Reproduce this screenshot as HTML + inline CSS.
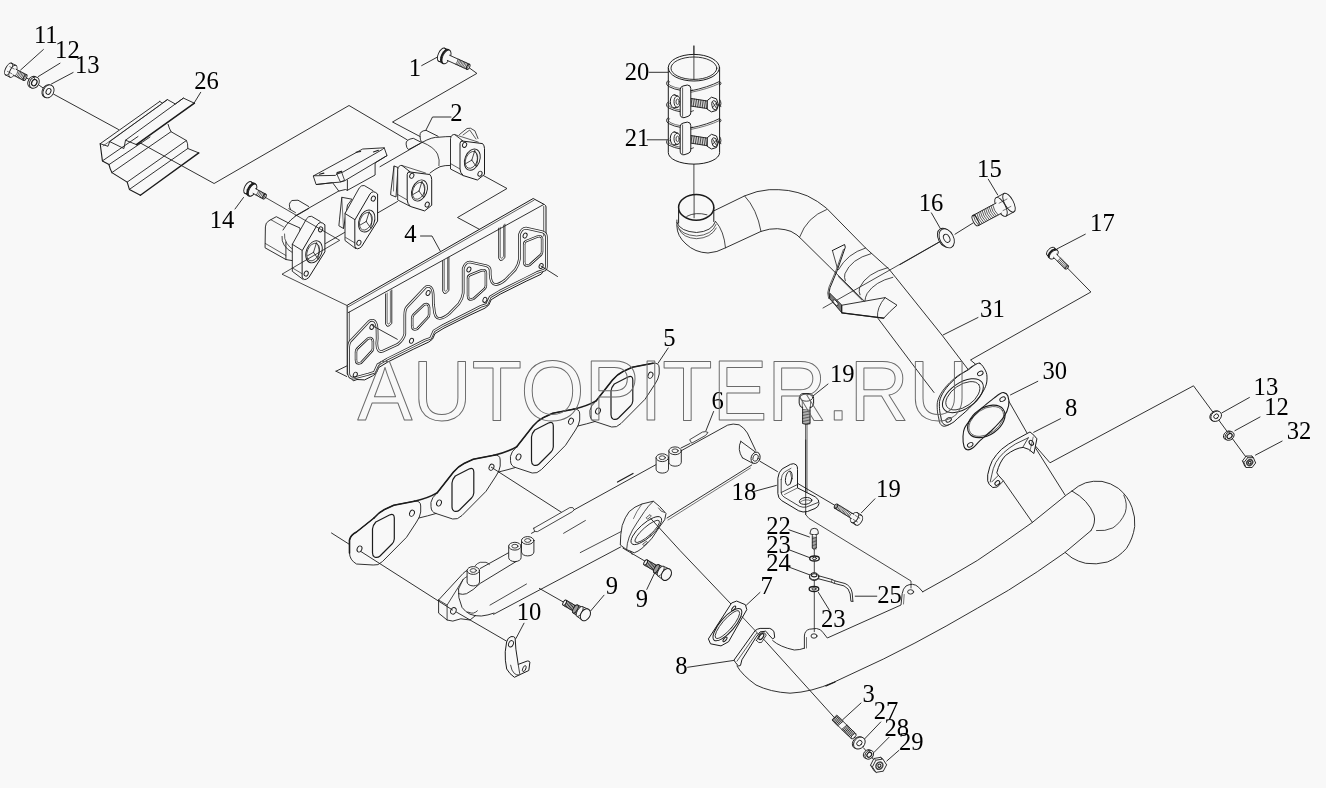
<!DOCTYPE html>
<html><head><meta charset="utf-8"><title>Exhaust manifold diagram</title>
<style>
html,body{margin:0;padding:0;background:#f8f8f8;}
body{width:1326px;height:788px;overflow:hidden;font-family:"Liberation Serif",serif;}
svg{display:block;will-change:transform}
svg text{font-family:"Liberation Serif",serif;fill:#000;stroke:none}
svg .wm{font-family:"Liberation Sans",sans-serif;fill:none;stroke:#6a6a6a;stroke-width:0.95}
</style></head><body>
<svg width="1326" height="788" viewBox="0 0 1326 788" fill="none" stroke="#1c1c1c" stroke-linecap="round" stroke-linejoin="round">
<rect x="0" y="0" width="1326" height="788" fill="#f8f8f8" stroke="none"/>
<text x="33.9" y="42.8" font-size="24.6">11</text>
<text x="55.1" y="57.7" font-size="24.6">12</text>
<text x="75.0" y="73.1" font-size="24.6">13</text>
<text x="194.2" y="89.0" font-size="24.6">26</text>
<text x="408.8" y="76.1" font-size="24.6">1</text>
<text x="450.2" y="121.0" font-size="24.6">2</text>
<text x="209.8" y="227.6" font-size="24.6">14</text>
<text x="404.2" y="241.8" font-size="24.6">4</text>
<text x="624.8" y="80.1" font-size="24.6">20</text>
<text x="624.8" y="146.4" font-size="24.6">21</text>
<text x="977.1" y="177.4" font-size="24.6">15</text>
<text x="918.7" y="210.6" font-size="24.6">16</text>
<text x="1090.1" y="231.3" font-size="24.6">17</text>
<text x="980.1" y="317.3" font-size="24.6">31</text>
<text x="1042.5" y="379.1" font-size="24.6">30</text>
<text x="1064.9" y="416.0" font-size="24.6">8</text>
<text x="1253.6" y="394.9" font-size="24.6">13</text>
<text x="1264.3" y="414.7" font-size="24.6">12</text>
<text x="1286.7" y="438.7" font-size="24.6">32</text>
<text x="663.2" y="346.0" font-size="24.6">5</text>
<text x="711.6" y="409.2" font-size="24.6">6</text>
<text x="829.9" y="381.5" font-size="24.6">19</text>
<text x="731.6" y="499.9" font-size="24.6">18</text>
<text x="876.1" y="496.8" font-size="24.6">19</text>
<text x="766.2" y="533.6" font-size="24.6">22</text>
<text x="766.2" y="552.7" font-size="24.6">23</text>
<text x="766.2" y="570.5" font-size="24.6">24</text>
<text x="877.2" y="602.5" font-size="24.6">25</text>
<text x="820.9" y="627.2" font-size="24.6">23</text>
<text x="760.5" y="593.6" font-size="24.6">7</text>
<text x="675.2" y="673.6" font-size="24.6">8</text>
<text x="605.8" y="593.5" font-size="24.6">9</text>
<text x="635.8" y="606.8" font-size="24.6">9</text>
<text x="516.8" y="620.2" font-size="24.6">10</text>
<text x="862.4" y="702.3" font-size="24.6">3</text>
<text x="873.8" y="719.0" font-size="24.6">27</text>
<text x="884.5" y="735.8" font-size="24.6">28</text>
<text x="899.0" y="750.3" font-size="24.6">29</text>
<path d="M43.4,49.5 L20.6,70.0" stroke-width="0.9" />
<path d="M60.0,63.2 L38.3,76.5" stroke-width="0.9" />
<path d="M73.1,72.5 L51.4,84.0" stroke-width="0.9" />
<path d="M200.7,92.3 L194.0,103.2" stroke-width="0.9" />
<path d="M421.7,65.6 L438.8,56.3" stroke-width="0.9" />
<path d="M243.5,197.5 L235.0,209.0" stroke-width="0.9" />
<path d="M649.0,72.3 L668.3,72.3" stroke-width="0.9" />
<path d="M647.3,139.8 L666.9,139.8" stroke-width="0.9" />
<path d="M988.3,179.2 L997.7,194.9" stroke-width="0.9" />
<path d="M931.4,212.9 L940.4,228.6" stroke-width="0.9" />
<path d="M1085.3,234.2 L1057.2,248.8" stroke-width="0.9" />
<path d="M978.0,317.5 L943.0,335.0" stroke-width="0.9" />
<path d="M1037.8,381.3 L1010.5,394.9" stroke-width="0.9" />
<path d="M1060.5,418.7 L1033.7,432.3" stroke-width="0.9" />
<path d="M1249.4,397.5 L1222.0,412.8" stroke-width="0.9" />
<path d="M1260.0,417.0 L1234.9,430.7" stroke-width="0.9" />
<path d="M1282.1,441.1 L1255.5,455.1" stroke-width="0.9" />
<path d="M668.2,348.0 L658.0,363.3" stroke-width="0.9" />
<path d="M713.6,411.5 L705.9,430.8" stroke-width="0.9" />
<path d="M753.0,491.7 L776.4,485.4" stroke-width="0.9" />
<path d="M874.9,498.8 L861.4,512.8" stroke-width="0.9" />
<path d="M789.0,529.8 L809.4,537.0" stroke-width="0.9" />
<path d="M788.6,549.6 L810.1,557.8" stroke-width="0.9" />
<path d="M789.0,567.1 L810.1,575.0" stroke-width="0.9" />
<path d="M855.2,596.2 L876.8,596.2" stroke-width="0.9" />
<path d="M818.4,592.4 L829.3,610.0" stroke-width="0.9" />
<path d="M760.0,592.4 L746.5,605.0" stroke-width="0.9" />
<path d="M687.6,667.3 L734.0,660.4" stroke-width="0.9" />
<path d="M604.0,595.2 L590.6,611.0" stroke-width="0.9" />
<path d="M646.8,589.4 L654.9,572.4" stroke-width="0.9" />
<path d="M524.0,623.2 L516.0,638.4" stroke-width="0.9" />
<path d="M861.0,703.0 L842.6,719.8" stroke-width="0.9" />
<path d="M880.7,722.0 L864.7,738.8" stroke-width="0.9" />
<path d="M889.0,737.3 L873.9,752.5" stroke-width="0.9" />
<path d="M899.0,750.3 L886.8,761.0" stroke-width="0.9" />
<path d="M451.0,117.0 L432.5,117.0 L426.0,130.0" stroke-width="0.9" />
<path d="M420.5,236.0 L432.0,236.0 L440.5,251.5" stroke-width="0.9" />
<path d="M828.0,384.0 L813.0,396.0" stroke-width="0.9" />
<path d="M25.1,77.1 L29.7,79.7" stroke-width="0.9" />
<path d="M39.4,85.4 L44.0,88.6" stroke-width="0.9" />
<path d="M53.7,94.2 L118.5,129.5" stroke-width="0.9" />
<ellipse cx="8.6" cy="69.1" rx="3.0" ry="6.6" stroke-width="0.9" transform="rotate(27.360774729817237 8.6 69.1)" fill="#f8f8f8"/>
<path d="M5.5,74.9 L10.0,77.2" stroke-width="0.9" />
<path d="M11.6,63.2 L16.1,65.5" stroke-width="0.9" />
<ellipse cx="13.0" cy="71.3" rx="3.0" ry="6.6" stroke-width="0.9" transform="rotate(27.360774729817237 13.0 71.3)" fill="#f8f8f8"/>
<path d="M7.4,71.4 L11.8,73.7" stroke-width="0.6" />
<path d="M9.8,66.7 L14.2,69.0" stroke-width="0.6" />
<path d="M13.1,75.0 L23.6,80.4 L26.6,74.8 L16.1,69.3" fill="#f8f8f8" stroke-width="0.9"/>
<ellipse cx="25.1" cy="77.6" rx="1.4" ry="3.2" stroke-width="0.9" transform="rotate(27.360774729817237 25.1 77.6)" fill="#f8f8f8"/>
<path d="M15.2,76.1 Q17.5,73.6 18.2,70.4" stroke-width="0.7"/>
<path d="M16.6,76.8 Q18.8,74.3 19.5,71.1" stroke-width="0.7"/>
<path d="M17.9,77.5 Q20.1,75.0 20.8,71.8" stroke-width="0.7"/>
<path d="M19.2,78.2 Q21.5,75.7 22.2,72.5" stroke-width="0.7"/>
<path d="M20.6,78.9 Q22.8,76.4 23.5,73.2" stroke-width="0.7"/>
<path d="M21.9,79.5 Q24.1,77.1 24.8,73.9" stroke-width="0.7"/>
<path d="M23.2,80.2 Q25.4,77.8 26.2,74.6" stroke-width="0.7"/>
<ellipse cx="32.7" cy="82.0" rx="4.6" ry="6.0" stroke-width="0.9" transform="rotate(30 32.7 82.0)" fill="#f8f8f8"/>
<ellipse cx="34.3" cy="82.6" rx="4.6" ry="6.0" stroke-width="0.9" transform="rotate(30 34.3 82.6)" fill="#f8f8f8"/>
<ellipse cx="34.3" cy="82.6" rx="2.5" ry="3.3" stroke-width="1.2" transform="rotate(30 34.3 82.6)" />
<path d="M33.4,76.6 L35.2,79.6" stroke-width="0.7" />
<ellipse cx="47.5" cy="91.1" rx="5.2" ry="6.8" stroke-width="0.9" transform="rotate(28 47.5 91.1)" fill="#f8f8f8"/>
<ellipse cx="48.5" cy="91.4" rx="5.2" ry="6.8" stroke-width="0.9" transform="rotate(28 48.5 91.4)" fill="#f8f8f8"/>
<ellipse cx="48.5" cy="91.4" rx="2.3" ry="3.1" stroke-width="0.9" transform="rotate(28 48.5 91.4)" />
<path d="M100.2,143.7 L159.8,101.4" stroke-width="0.9" />
<path d="M103.0,146.0 L161.0,104.5" stroke-width="0.6" />
<path d="M109.7,141.6 L167.4,99.6" stroke-width="0.9" />
<path d="M125.5,140.2 L183.4,98.1" stroke-width="0.9" />
<path d="M136.4,144.6 L194.4,103.2" stroke-width="1.6" />
<path d="M159.8,101.4 L162.3,103.2 L167.4,99.6 L175.4,104.0 L183.4,98.1 L194.4,103.2" stroke-width="0.9" />
<path d="M100.2,143.7 L108.0,146.3 L109.7,141.6 L123.9,148.5 L125.5,140.2 L136.4,144.6 L141.0,143.2" stroke-width="0.9" />
<path d="M100.2,143.7 L102.4,160.9 L109,164.6 Q110,169 111.9,172.6 L127.2,182.1 L129.4,189.4 L140.4,195.2" stroke-width="1.1" />
<path d="M140.4,195.2 L198.8,152.9" stroke-width="1.4" />
<path d="M198.8,152.9 L187.8,148.5 Q188,143 186.4,140.5 L171,131.7 Q169,128 168.1,124.4" stroke-width="0.9" />
<path d="M102.4,160.9 L138.0,136.5" stroke-width="0.9" />
<path d="M109.0,164.6 L150.0,137.0" stroke-width="0.9" />
<path d="M111.9,172.6 L171.0,131.7" stroke-width="0.9" />
<path d="M127.2,182.1 L186.4,140.5" stroke-width="0.9" />
<path d="M129.4,189.4 L187.8,148.5" stroke-width="0.9" />
<path d="M141.1,143.4 L214.1,183.5 L349.0,105.5 L407.3,139.9" stroke-width="0.9" />
<path d="M468.5,67.3 L476.9,73.4 L392.5,122.0 L420.0,136.5" stroke-width="0.9" />
<ellipse cx="441.8" cy="54.8" rx="3.6" ry="7.2" stroke-width="0.9" transform="rotate(24.39150214369992 441.8 54.8)" fill="#f8f8f8"/>
<path d="M438.8,61.3 L442.4,63.0" stroke-width="0.9" />
<path d="M444.8,48.2 L448.4,49.9" stroke-width="0.9" />
<ellipse cx="445.4" cy="56.4" rx="3.6" ry="7.2" stroke-width="2.0" transform="rotate(24.39150214369992 445.4 56.4)" fill="#f8f8f8"/>
<path d="M440.6,57.4 L444.2,59.0" stroke-width="0.6" />
<path d="M443.0,52.2 L446.6,53.8" stroke-width="0.6" />
<ellipse cx="446.5" cy="56.9" rx="3.7" ry="7.4" stroke-width="0.9" transform="rotate(24.39150214369992 446.5 56.9)" fill="#f8f8f8"/>
<path d="M447.3,60.4 L467.1,69.4 L469.5,64.2 L449.6,55.3" fill="#f8f8f8" stroke-width="0.9"/>
<ellipse cx="468.3" cy="66.8" rx="1.4" ry="2.8" stroke-width="0.9" transform="rotate(24.39150214369992 468.3 66.8)" fill="#f8f8f8"/>
<path d="M455.8,64.2 Q457.7,62.0 458.1,59.1" stroke-width="0.7"/>
<path d="M457.2,64.8 Q459.1,62.6 459.5,59.7" stroke-width="0.7"/>
<path d="M458.5,65.4 Q460.4,63.2 460.8,60.3" stroke-width="0.7"/>
<path d="M459.9,66.1 Q461.8,63.8 462.2,61.0" stroke-width="0.7"/>
<path d="M461.3,66.7 Q463.1,64.5 463.6,61.6" stroke-width="0.7"/>
<path d="M462.6,67.3 Q464.5,65.1 464.9,62.2" stroke-width="0.7"/>
<path d="M464.0,67.9 Q465.9,65.7 466.3,62.8" stroke-width="0.7"/>
<path d="M465.4,68.5 Q467.2,66.3 467.7,63.4" stroke-width="0.7"/>
<path d="M466.7,69.2 Q468.6,66.9 469.0,64.1" stroke-width="0.7"/>
<ellipse cx="248.0" cy="187.6" rx="3.3" ry="6.6" stroke-width="0.9" transform="rotate(28.55581420851125 248.0 187.6)" fill="#f8f8f8"/>
<path d="M244.9,193.4 L248.4,195.4" stroke-width="0.9" />
<path d="M251.2,181.8 L254.7,183.8" stroke-width="0.9" />
<ellipse cx="251.6" cy="189.6" rx="3.3" ry="6.6" stroke-width="2.0" transform="rotate(28.55581420851125 251.6 189.6)" fill="#f8f8f8"/>
<path d="M246.8,190.0 L250.3,191.9" stroke-width="0.6" />
<path d="M249.3,185.3 L252.8,187.2" stroke-width="0.6" />
<ellipse cx="252.6" cy="190.1" rx="3.3" ry="6.6" stroke-width="0.9" transform="rotate(28.55581420851125 252.6 190.1)" fill="#f8f8f8"/>
<path d="M253.1,193.4 L263.2,199.0 L265.8,194.2 L255.6,188.7" fill="#f8f8f8" stroke-width="0.9"/>
<ellipse cx="264.5" cy="196.6" rx="1.4" ry="2.7" stroke-width="0.9" transform="rotate(28.55581420851125 264.5 196.6)" fill="#f8f8f8"/>
<path d="M256.1,195.1 Q258.1,193.1 258.7,190.4" stroke-width="0.7"/>
<path d="M257.4,195.8 Q259.4,193.8 260.0,191.1" stroke-width="0.7"/>
<path d="M258.8,196.5 Q260.7,194.5 261.3,191.8" stroke-width="0.7"/>
<path d="M260.1,197.3 Q262.0,195.3 262.7,192.5" stroke-width="0.7"/>
<path d="M261.4,198.0 Q263.3,196.0 264.0,193.2" stroke-width="0.7"/>
<path d="M262.7,198.7 Q264.7,196.7 265.3,194.0" stroke-width="0.7"/>
<path d="M421.2,142.3 L413.3,138.3 Q405.5,139.5 406.1,144.1 Q406.3,148 408.5,149.6 L420,143.5" stroke-width="0.9" />
<path d="M438.1,136.3 L426,130.3 Q419.5,131 420,135.7 Q420,139.5 421.2,141.7" stroke-width="0.9" />
<path d="M295.0,216.0 L340.0,190.3" stroke-width="0.9" />
<path d="M380.0,166.7 L422.3,142.3" stroke-width="0.9" />
<path d="M422.3,142.3 Q432,136.8 439,137.2 Q446,136.5 451.8,136.5" stroke-width="0.9" />
<path d="M430,173 Q435,169 440,166.7 Q445,165.2 450.3,165.4" stroke-width="0.9" />
<path d="M422.3,142.3 Q434,147 437.5,154 Q440,160 439,165.6" stroke-width="0.8" />
<path d="M325.5,243.5 L344.5,232.5" stroke-width="0.9" />
<path d="M377.6,213.0 L397.5,201.5" stroke-width="0.9" />
<path d="M459.5,134.5 L467,128.5 Q470,126.8 474.9,130.8 L478,138.5" stroke-width="0.8" />
<path d="M463.0,135.0 L469.7,130.0 L476.0,139.0" stroke-width="0.7" />
<path d="M481.3,174.4 L507.0,188.5 L457.5,217.5 L482.5,231.0" stroke-width="0.9" />
<path d="M313.6,175.8 L362.7,149 L384.2,147.8 L387,155.6 L375.1,163 L375.1,175 L347.4,190.3 L345.4,189.5 L338.8,191.1 L332.6,182.7 L316.5,184.5 Z" stroke-width="0.9" fill="#f8f8f8"/>
<path d="M313.6,175.8 L335.5,175.4 L336.7,174.2 L342.9,172.1 L382.5,149.4 L384.2,147.8" stroke-width="0.9" />
<path d="M316.5,184.5 L332.6,182.7 L339.6,182.2 L344.6,180.8 L387.0,155.6" stroke-width="0.9" />
<path d="M336.7,173.8 L341.3,171.3 L344.6,180.4 L340.4,182.0 L336.7,173.8" stroke-width="0.8" />
<path d="M347.4,180.0 L347.4,190.3" stroke-width="0.9" />
<path d="M319.4,174.2 L323.9,173.1" stroke-width="1.1" />
<path d="M337.1,172.5 L341.7,171.3" stroke-width="1.1" />
<path d="M356.1,152.3 L360.6,151.5" stroke-width="1.1" />
<path d="M373.4,151.9 L378.4,150.3" stroke-width="1.1" />
<path d="M265.4,226.5 Q265.4,222.5 269,220.7 L276.3,216.7 L287.2,222.3 L300,228 L300,262 L285.9,259.5 L265.4,248Z" stroke-width="0.9" fill="#f8f8f8"/>
<path d="M265.4,243.5 L285.9,255.5" stroke-width="0.7" />
<path d="M285.9,259.5 L285.9,242.0" stroke-width="0.9" />
<path d="M282,236.4 Q281,246 292.3,252.5" stroke-width="0.8" />
<path d="M284.5,234 Q283.5,244 294.5,250.5" stroke-width="0.7" />
<path d="M271.0,219.8 L283.5,226.8" stroke-width="0.7" />
<path d="M290.5,209.5 Q287.5,203.5 292,200.5 L298,200.2 L308.7,206.5" stroke-width="0.9" />
<path d="M288.8,208.7 L295.5,212.6" stroke-width="0.8" />
<path d="M283,230 Q290,218 301,213 L308.7,208.5" stroke-width="0.9" />
<path d="M339.5,219.5 L341.8,197.3 L352,199.2 L347.5,205 L343.5,228.5 L339.2,226 Z" stroke-width="0.9" fill="#f8f8f8"/>
<path d="M341.8,197.3 L343.5,228.5" stroke-width="0.6" />
<path d="M391,190.3 L394,166 L398,167.5 L396,197 L391,195 Z" stroke-width="0.9" fill="#f8f8f8"/>
<path d="M394.0,166.0 L393.5,191.0" stroke-width="0.6" />
<path d="M320.3,221.5 L311.5,216.3 Q308.5,215.8 306.5,218.8 L292.3,244.3 L292.3,271.3 L303.0,279.4 L324.9,224.8Z" stroke-width="0.9" fill="#f8f8f8" stroke="none"/>
<path d="M320.3,221.5 L311.5,216.3 Q308.5,215.8 306.5,218.8 L292.3,244.3 L292.3,271.3 L303.0,279.4" stroke-width="0.9" />
<path d="M292.3,244.3 L302.3,250.5" stroke-width="0.9" />
<path d="M293.0,268.3 L302.3,273.8" stroke-width="0.7" />
<path d="M302.3,250.5 L317.3,224.8 Q320.3,220.3 324.9,224.8 L324.9,251.8 L308.8,277.5 Q304.0,281.8 302.3,277.5Z" stroke-width="1.0" fill="#f8f8f8"/>
<ellipse cx="320.6" cy="229.4" rx="2.0" ry="2.6" stroke-width="0.9" transform="rotate(25 320.6 229.4)" />
<ellipse cx="306.2" cy="273.6" rx="2.0" ry="2.6" stroke-width="0.9" transform="rotate(25 306.2 273.6)" />
<ellipse cx="314.0" cy="251.8" rx="7.6" ry="11.5" stroke-width="0.9" transform="rotate(22 314.0 251.8)" fill="#f8f8f8"/>
<ellipse cx="313.2" cy="252.1" rx="5.9" ry="9.2" stroke-width="0.7" transform="rotate(22 313.2 252.1)" />
<path d="M313.5,252.3 L316.5,242.8" stroke-width="0.8" />
<path d="M313.5,252.3 L307.5,255.8" stroke-width="0.8" />
<path d="M313.5,252.3 L318.0,258.8" stroke-width="0.8" />
<path d="M316.5,242.8 Q321.0,248.8 318.0,258.8" stroke-width="0.7" />
<path d="M373.0,190.7 L364.2,185.5 Q361.2,185.0 359.2,188.0 L345.0,213.5 L345.0,240.5 L355.7,248.6 L377.6,194.0Z" stroke-width="0.9" fill="#f8f8f8" stroke="none"/>
<path d="M373.0,190.7 L364.2,185.5 Q361.2,185.0 359.2,188.0 L345.0,213.5 L345.0,240.5 L355.7,248.6" stroke-width="0.9" />
<path d="M345.0,213.5 L355.0,219.7" stroke-width="0.9" />
<path d="M345.7,237.5 L355.0,243.0" stroke-width="0.7" />
<path d="M355.0,219.7 L370.0,194.0 Q373.0,189.5 377.6,194.0 L377.6,221.0 L361.5,246.7 Q356.7,251.0 355.0,246.7Z" stroke-width="1.0" fill="#f8f8f8"/>
<ellipse cx="373.3" cy="198.6" rx="2.0" ry="2.6" stroke-width="0.9" transform="rotate(25 373.3 198.6)" />
<ellipse cx="358.9" cy="242.8" rx="2.0" ry="2.6" stroke-width="0.9" transform="rotate(25 358.9 242.8)" />
<ellipse cx="366.7" cy="221.0" rx="7.6" ry="11.5" stroke-width="0.9" transform="rotate(22 366.7 221.0)" fill="#f8f8f8"/>
<ellipse cx="365.9" cy="221.3" rx="5.9" ry="9.2" stroke-width="0.7" transform="rotate(22 365.9 221.3)" />
<path d="M366.2,221.5 L369.2,212.0" stroke-width="0.8" />
<path d="M366.2,221.5 L360.2,225.0" stroke-width="0.8" />
<path d="M366.2,221.5 L370.7,228.0" stroke-width="0.8" />
<path d="M369.2,212.0 Q373.7,218.0 370.7,228.0" stroke-width="0.7" />
<path d="M410.2,171.9 L402.0,165.5 Q398.5,164.9 397.7,169.5 L397.7,199.9 L410.5,206.5 L424.5,210.9 L431.5,180.5Z" stroke-width="0.9" fill="#f8f8f8" stroke="none"/>
<path d="M410.2,171.9 L402.0,165.5 Q398.5,164.9 397.7,169.5 L397.7,199.9 L410.5,206.5" stroke-width="0.9" />
<path d="M402.0,165.5 L425.5,173.0" stroke-width="0.7" />
<path d="M407.2,199.9 L397.7,194.5" stroke-width="0.7" />
<path d="M409.2,171.9 L429.8,174.5 Q431.7,176.5 431.7,179.5 L431.7,205.3 L424.6,210.9 L410.5,206.5 Q407.2,203.5 407.2,199.9 L407.2,174.5 Q407.2,171.9 409.2,171.9Z" stroke-width="1.0" fill="#f8f8f8"/>
<ellipse cx="411.8" cy="175.8" rx="2.0" ry="2.6" stroke-width="0.9" transform="rotate(25 411.8 175.8)" />
<ellipse cx="427.2" cy="204.6" rx="2.0" ry="2.6" stroke-width="0.9" transform="rotate(25 427.2 204.6)" />
<ellipse cx="419.5" cy="190.5" rx="7.4" ry="11.0" stroke-width="0.9" transform="rotate(22 419.5 190.5)" fill="#f8f8f8"/>
<ellipse cx="418.7" cy="190.8" rx="5.8" ry="8.8" stroke-width="0.7" transform="rotate(22 418.7 190.8)" />
<path d="M419.0,191.0 L422.0,181.5" stroke-width="0.8" />
<path d="M419.0,191.0 L413.0,194.5" stroke-width="0.8" />
<path d="M419.0,191.0 L423.5,197.5" stroke-width="0.8" />
<path d="M422.0,181.5 Q426.5,187.5 423.5,197.5" stroke-width="0.7" />
<path d="M463.0,141.0 L454.8,134.6 Q451.3,134.0 450.5,138.6 L450.5,169.0 L463.3,175.6 L477.3,180.0 L484.3,149.6Z" stroke-width="0.9" fill="#f8f8f8" stroke="none"/>
<path d="M463.0,141.0 L454.8,134.6 Q451.3,134.0 450.5,138.6 L450.5,169.0 L463.3,175.6" stroke-width="0.9" />
<path d="M454.8,134.6 L478.3,142.1" stroke-width="0.7" />
<path d="M460.0,169.0 L450.5,163.6" stroke-width="0.7" />
<path d="M462.0,141.0 L482.6,143.6 Q484.5,145.6 484.5,148.6 L484.5,174.4 L477.4,180.0 L463.3,175.6 Q460.0,172.6 460.0,169.0 L460.0,143.6 Q460.0,141.0 462.0,141.0Z" stroke-width="1.0" fill="#f8f8f8"/>
<ellipse cx="464.6" cy="144.9" rx="2.0" ry="2.6" stroke-width="0.9" transform="rotate(25 464.6 144.9)" />
<ellipse cx="480.0" cy="173.7" rx="2.0" ry="2.6" stroke-width="0.9" transform="rotate(25 480.0 173.7)" />
<ellipse cx="472.3" cy="159.6" rx="7.4" ry="11.0" stroke-width="0.9" transform="rotate(22 472.3 159.6)" fill="#f8f8f8"/>
<ellipse cx="471.5" cy="159.9" rx="5.8" ry="8.8" stroke-width="0.7" transform="rotate(22 471.5 159.9)" />
<path d="M471.8,160.1 L474.8,150.6" stroke-width="0.8" />
<path d="M471.8,160.1 L465.8,163.6" stroke-width="0.8" />
<path d="M471.8,160.1 L476.3,166.6" stroke-width="0.8" />
<path d="M474.8,150.6 Q479.3,156.6 476.3,166.6" stroke-width="0.7" />
<path d="M264.5,196.9 L339.7,240.3 L282.0,274.2 L347.0,305.5" stroke-width="0.8" />
<path d="M347.5,305.1 L533.2,198.5 L544.7,204.7 Q546,205.5 546,207 L546.0,267.3 L541.2,274.2 L526.2,281.2 L500.2,294.2 L491.2,299.7 L488.7,305.2 L485.0,308.1 L470.0,315.1 L444.0,328.1 L435.0,333.6 L432.5,339.1 L428.8,342.0 L413.8,349.0 L387.8,362.0 L378.8,367.5 L376.3,373.0 L372.6,375.9 L364.6,379.9 L357.0,379.5 L353.3,380.8 L347.5,374.5 Z" stroke-width="1.0" fill="#f8f8f8"/>
<path d="M347.9,307.0 L534.0,200.2" stroke-width="0.7" />
<path d="M348.3,312.6 L543.5,204.6" stroke-width="0.9" />
<path d="M349.3,312.0 L349.3,376.0" stroke-width="0.7" />
<path d="M543.7,206.5 L543.7,236.0" stroke-width="0.7" />
<path d="M336.0,371.2 L346.7,366.0" stroke-width="0.9" />
<path d="M336.0,371.2 L346.7,376.5" stroke-width="0.9" />
<path d="M385.6,294.0 L385.6,324.0 Q386.6,327.5 389.1,326.0 L391.8,323.5 L391.8,290.0" stroke-width="0.9" />
<path d="M387.2,293.0 L387.2,323.0 Q387.8,325.0 389.6,323.5 L390.4,322.0 L390.4,291.0" stroke-width="0.6" />
<path d="M442.7,261.2 L442.7,291.2 Q443.7,294.7 446.2,293.2 L448.9,290.7 L448.9,257.2" stroke-width="0.9" />
<path d="M444.3,260.2 L444.3,290.2 Q444.9,292.2 446.7,290.7 L447.5,289.2 L447.5,258.2" stroke-width="0.6" />
<path d="M498.7,228.2 L498.7,258.2 Q499.7,261.7 502.2,260.2 L504.9,257.7 L504.9,224.2" stroke-width="0.9" />
<path d="M500.3,227.2 L500.3,257.2 Q500.9,259.2 502.7,257.7 L503.5,256.2 L503.5,225.2" stroke-width="0.6" />
<path d="M546.4,266.7 L546.4,236.7 Q546.4,233.2 542.7,231.9 L526.0,228.1 Q521.4,228.1 519.4,234.7 L519.4,259.2 Q518.7,264.7 515.2,269.7 L505.3,279.9 Q500.2,284.2 495.9,284.6 Q490.6,284.7 490.2,274.3 L490.2,270.6 Q490.2,267.1 486.5,265.8 L469.8,262.0 Q465.2,262.0 463.2,268.6 L463.2,293.1 Q462.5,298.6 459.0,303.6 L449.1,313.8 Q444.0,318.1 439.7,318.5 Q434.4,318.6 434.0,308.2 L433.4,304.5 L433.2,294.5 Q432.8,287.5 429.3,286.5 Q426.3,286.0 424.8,288.0 L406.6,307.3 Q404.8,309.5 404.8,315.3 L404.8,333.9 Q403.8,339.5 397.3,344.6 L382.6,351.3 Q377.0,353.0 376.8,343.5 L377.2,338.4 L377.0,328.4 Q376.6,321.4 373.1,320.4 Q370.1,319.9 368.6,321.9 L350.4,341.2 Q348.6,343.4 348.6,349.2 L348.6,372.4 Q348.6,377.9 353.1,378.2 L368.6,374.1 L374.4,372.2 L377.8,364.7 L387.2,359.1 L413.6,345.9 L424.8,340.2 L430.6,338.3 L434.0,330.8 L443.4,325.2 L469.8,312.0 L481.0,306.3 L486.8,304.4 L490.2,296.9 L499.6,291.3 L526.0,278.1 L537.2,272.4 L543.0,270.5 Q546.4,269.7 546.4,266.7 Z" stroke-width="2.7" stroke="#2a2a2a"/>
<path d="M546.4,266.7 L546.4,236.7 Q546.4,233.2 542.7,231.9 L526.0,228.1 Q521.4,228.1 519.4,234.7 L519.4,259.2 Q518.7,264.7 515.2,269.7 L505.3,279.9 Q500.2,284.2 495.9,284.6 Q490.6,284.7 490.2,274.3 L490.2,270.6 Q490.2,267.1 486.5,265.8 L469.8,262.0 Q465.2,262.0 463.2,268.6 L463.2,293.1 Q462.5,298.6 459.0,303.6 L449.1,313.8 Q444.0,318.1 439.7,318.5 Q434.4,318.6 434.0,308.2 L433.4,304.5 L433.2,294.5 Q432.8,287.5 429.3,286.5 Q426.3,286.0 424.8,288.0 L406.6,307.3 Q404.8,309.5 404.8,315.3 L404.8,333.9 Q403.8,339.5 397.3,344.6 L382.6,351.3 Q377.0,353.0 376.8,343.5 L377.2,338.4 L377.0,328.4 Q376.6,321.4 373.1,320.4 Q370.1,319.9 368.6,321.9 L350.4,341.2 Q348.6,343.4 348.6,349.2 L348.6,372.4 Q348.6,377.9 353.1,378.2 L368.6,374.1 L374.4,372.2 L377.8,364.7 L387.2,359.1 L413.6,345.9 L424.8,340.2 L430.6,338.3 L434.0,330.8 L443.4,325.2 L469.8,312.0 L481.0,306.3 L486.8,304.4 L490.2,296.9 L499.6,291.3 L526.0,278.1 L537.2,272.4 L543.0,270.5 Q546.4,269.7 546.4,266.7 Z" stroke-width="1.1" stroke="#f8f8f8"/>
<path d="M524.2,244.2 Q524.2,241.9 526.2,241.1 L537.3,236.6 Q542.1,235.2 542.1,239.2 L542.1,251.7 Q542.1,253.7 540.7,255.0 L529.8,264.8 Q524.2,267.2 524.2,262.2 Z" stroke-width="2.5" stroke="#2a2a2a"/>
<path d="M524.2,244.2 Q524.2,241.9 526.2,241.1 L537.3,236.6 Q542.1,235.2 542.1,239.2 L542.1,251.7 Q542.1,253.7 540.7,255.0 L529.8,264.8 Q524.2,267.2 524.2,262.2 Z" stroke-width="1.0" stroke="#f8f8f8"/>
<path d="M468.0,278.1 Q468.0,275.8 470.0,275.0 L481.1,270.5 Q485.9,269.1 485.9,273.1 L485.9,285.6 Q485.9,287.6 484.5,288.9 L473.6,298.7 Q468.0,301.1 468.0,296.1 Z" stroke-width="2.5" stroke="#2a2a2a"/>
<path d="M468.0,278.1 Q468.0,275.8 470.0,275.0 L481.1,270.5 Q485.9,269.1 485.9,273.1 L485.9,285.6 Q485.9,287.6 484.5,288.9 L473.6,298.7 Q468.0,301.1 468.0,296.1 Z" stroke-width="1.0" stroke="#f8f8f8"/>
<path d="M412.2,318.0 Q412.2,316.0 413.6,314.6 L424.1,304.7 Q428.6,302.7 429.1,307.5 L429.1,314.5 Q429.1,316.1 427.8,317.5 L417.2,328.9 Q412.2,331.0 412.2,326.0 Z" stroke-width="2.5" stroke="#2a2a2a"/>
<path d="M412.2,318.0 Q412.2,316.0 413.6,314.6 L424.1,304.7 Q428.6,302.7 429.1,307.5 L429.1,314.5 Q429.1,316.1 427.8,317.5 L417.2,328.9 Q412.2,331.0 412.2,326.0 Z" stroke-width="1.0" stroke="#f8f8f8"/>
<path d="M356.0,351.9 Q356.0,349.9 357.4,348.5 L367.9,338.6 Q372.4,336.6 372.9,341.4 L372.9,348.4 Q372.9,350.0 371.6,351.4 L361.0,362.8 Q356.0,364.9 356.0,359.9 Z" stroke-width="2.5" stroke="#2a2a2a"/>
<path d="M356.0,351.9 Q356.0,349.9 357.4,348.5 L367.9,338.6 Q372.4,336.6 372.9,341.4 L372.9,348.4 Q372.9,350.0 371.6,351.4 L361.0,362.8 Q356.0,364.9 356.0,359.9 Z" stroke-width="1.0" stroke="#f8f8f8"/>
<ellipse cx="525.1" cy="235.6" rx="1.9" ry="2.6" stroke-width="0.9" transform="rotate(25 525.1 235.6)" />
<ellipse cx="541.1" cy="266.0" rx="1.9" ry="2.6" stroke-width="0.9" transform="rotate(25 541.1 266.0)" />
<ellipse cx="468.9" cy="269.5" rx="1.9" ry="2.6" stroke-width="0.9" transform="rotate(25 468.9 269.5)" />
<ellipse cx="484.9" cy="299.9" rx="1.9" ry="2.6" stroke-width="0.9" transform="rotate(25 484.9 299.9)" />
<ellipse cx="428.1" cy="293.0" rx="1.9" ry="2.6" stroke-width="0.9" transform="rotate(25 428.1 293.0)" />
<ellipse cx="411.5" cy="340.8" rx="1.9" ry="2.6" stroke-width="0.9" transform="rotate(25 411.5 340.8)" />
<ellipse cx="371.9" cy="326.9" rx="1.9" ry="2.6" stroke-width="0.9" transform="rotate(25 371.9 326.9)" />
<ellipse cx="355.3" cy="374.7" rx="1.9" ry="2.6" stroke-width="0.9" transform="rotate(25 355.3 374.7)" />
<path d="M540.9,266.0 L557.5,276.5" stroke-width="0.9" />
<path d="M372.0,325.4 L397.3,339.3" stroke-width="0.9" />
<path d="M331.5,533.0 L349.3,544.3" stroke-width="0.9" />
<path d="M361.0,551.6 L452.5,610.0" stroke-width="0.9" />
<path d="M491.3,467.2 L563.0,513.3" stroke-width="0.9" />
<path d="M349.5,540.0 Q350.5,535.0 356.5,532.0 L374.0,518.0 Q378.5,512.5 384.5,509.5 L393.8,505.2 L414.5,501.2 Q420.7,500.5 420.7,506.0 L420.7,512.0 Q420.0,517.0 416.5,522.0 L406.5,537.3 L382.5,561.5 Q378.0,566.0 373.2,565.0 L356.5,564.0 Q349.5,560.0 349.5,553.0 Z" stroke-width="0.9" />
<path d="M349.5,553.0 L349.5,540.0 Q350.5,535.0 356.5,532.0 L374.0,518.0" stroke-width="1.6" />
<path d="M374.0,518.0 Q378.5,512.5 384.5,509.5 L393.8,505.2 L414.5,501.2" stroke-width="1.6" />
<path d="M372.5,529.0 Q373.0,525.0 375.8,522.0 L389.5,515.0 Q394.3,513.0 394.3,518.0 L394.3,539.0 Q394.0,542.0 392.0,544.0 L380.0,556.0 Q377.5,558.3 374.5,557.0 Q372.5,556.0 372.5,552.7 Z" stroke-width="1.2" />
<ellipse cx="359.5" cy="549.0" rx="2.3" ry="3.2" stroke-width="0.9" transform="rotate(25 359.5 549.0)" />
<ellipse cx="412.0" cy="513.2" rx="2.3" ry="3.2" stroke-width="0.9" transform="rotate(25 412.0 513.2)" />
<path d="M414.5,501.2 Q428.5,498.0 437.4,492.6" stroke-width="1.6" />
<path d="M419.0,518.0 Q427.5,516.0 436.0,513.5" stroke-width="0.9" />
<path d="M431.0,502.0 Q431.5,498.0 437.4,492.6 L453.5,472.0 Q458.0,466.5 464.0,463.5 L473.3,459.2 L494.0,455.2 Q500.2,454.5 500.2,460.0 L500.2,466.0 Q499.5,471.0 496.0,476.0 L486.0,491.3 L462.0,515.5 Q457.5,520.0 452.7,519.0 L436.0,513.5 Q431.0,512.0 431.0,507.0 Z" stroke-width="0.9" />
<path d="M437.4,492.6 L453.5,472.0 Q458.0,466.5 464.0,463.5 L473.3,459.2 L494.0,455.2" stroke-width="1.6" />
<path d="M452.0,483.0 Q452.5,479.0 455.3,476.0 L469.0,469.0 Q473.8,467.0 473.8,472.0 L473.8,493.0 Q473.5,496.0 471.5,498.0 L459.5,510.0 Q457.0,512.3 454.0,511.0 Q452.0,510.0 452.0,506.7 Z" stroke-width="1.2" />
<ellipse cx="439.0" cy="503.0" rx="2.3" ry="3.2" stroke-width="0.9" transform="rotate(25 439.0 503.0)" />
<ellipse cx="491.5" cy="467.2" rx="2.3" ry="3.2" stroke-width="0.9" transform="rotate(25 491.5 467.2)" />
<path d="M494.0,455.2 Q508.0,452.0 516.9,446.6" stroke-width="1.6" />
<path d="M498.5,472.0 Q507.0,470.0 515.5,467.5" stroke-width="0.9" />
<path d="M510.5,456.0 Q511.0,452.0 516.9,446.6 L533.0,426.0 Q537.5,420.5 543.5,417.5 L552.8,413.2 L573.5,409.2 Q579.7,408.5 579.7,414.0 L579.7,420.0 Q579.0,425.0 575.5,430.0 L565.5,445.3 L541.5,469.5 Q537.0,474.0 532.2,473.0 L515.5,467.5 Q510.5,466.0 510.5,461.0 Z" stroke-width="0.9" />
<path d="M516.9,446.6 L533.0,426.0 Q537.5,420.5 543.5,417.5 L552.8,413.2 L573.5,409.2" stroke-width="1.6" />
<path d="M531.5,437.0 Q532.0,433.0 534.8,430.0 L548.5,423.0 Q553.3,421.0 553.3,426.0 L553.3,447.0 Q553.0,450.0 551.0,452.0 L539.0,464.0 Q536.5,466.3 533.5,465.0 Q531.5,464.0 531.5,460.7 Z" stroke-width="1.2" />
<ellipse cx="518.5" cy="457.0" rx="2.3" ry="3.2" stroke-width="0.9" transform="rotate(25 518.5 457.0)" />
<ellipse cx="571.0" cy="421.2" rx="2.3" ry="3.2" stroke-width="0.9" transform="rotate(25 571.0 421.2)" />
<path d="M573.5,409.2 Q587.5,406.0 596.4,400.6" stroke-width="1.6" />
<path d="M578.0,426.0 Q586.5,424.0 595.0,421.5" stroke-width="0.9" />
<path d="M590.0,410.0 Q590.5,406.0 596.4,400.6 L612.5,380.0 Q617.0,374.5 623.0,371.5 L632.3,367.2 L653.0,363.2 Q659.2,362.5 659.2,368.0 L659.2,374.0 Q658.5,379.0 655.0,384.0 L645.0,399.3 L621.0,423.5 Q616.5,428.0 611.7,427.0 L595.0,421.5 Q590.0,420.0 590.0,415.0 Z" stroke-width="0.9" />
<path d="M596.4,400.6 L612.5,380.0 Q617.0,374.5 623.0,371.5 L632.3,367.2 L653.0,363.2" stroke-width="1.6" />
<path d="M611.0,391.0 Q611.5,387.0 614.3,384.0 L628.0,377.0 Q632.8,375.0 632.8,380.0 L632.8,401.0 Q632.5,404.0 630.5,406.0 L618.5,418.0 Q616.0,420.3 613.0,419.0 Q611.0,418.0 611.0,414.7 Z" stroke-width="1.2" />
<ellipse cx="598.0" cy="411.0" rx="2.3" ry="3.2" stroke-width="0.9" transform="rotate(25 598.0 411.0)" />
<ellipse cx="650.5" cy="375.2" rx="2.3" ry="3.2" stroke-width="0.9" transform="rotate(25 650.5 375.2)" />
<path d="M531.5,533.3 L727.7,425.1 Q733,423.2 739.1,424.8 Q744,427.5 747.4,433 L755.6,450.3" stroke-width="0.9" />
<path d="M533.8,528.2 L569.8,507.6 Q573.6,506.6 574.2,509.6 L572.5,511.6 L537.5,531.6 Q533.6,532.2 533.8,528.2 Z" stroke-width="0.8" fill="#f8f8f8"/>
<path d="M690,439.5 L702.5,432 Q706,431 708,432.5 L705.5,435.5 L692,443 Z" stroke-width="0.8" />
<path d="M617.5,482.0 L633.0,473.5" stroke-width="1.3" />
<path d="M740.8,441.3 Q736.8,449.5 742.4,457.8" stroke-width="0.9" />
<path d="M740.8,441.3 L755.6,452.2" stroke-width="0.9" />
<path d="M742.4,457.8 L753.1,463.5" stroke-width="0.9" />
<ellipse cx="755.6" cy="457.8" rx="4.4" ry="5.8" stroke-width="0.9" transform="rotate(20 755.6 457.8)" fill="#f8f8f8"/>
<ellipse cx="755.6" cy="457.8" rx="2.6" ry="3.6" stroke-width="0.8" transform="rotate(20 755.6 457.8)" />
<path d="M751.7,465.0 L667.0,518.0" stroke-width="0.9" />
<path d="M750.5,468.0 L668.0,520.0" stroke-width="0.6" />
<path d="M620.6,547.0 L493.6,614.3" stroke-width="0.9" />
<path d="M563.6,533.3 L585.4,520.5" stroke-width="0.8" />
<path d="M580.3,552.6 L622.6,530.8" stroke-width="0.8" />
<path d="M490.0,605.1 L526.5,584.0" stroke-width="0.8" />
<path d="M458.5,589.1 Q457.5,597.1 462,607.4 Q465.5,612 470,614.2 Q475,616.3 481.4,616 Q488,615.3 494,613.1" stroke-width="0.9" />
<path d="M458.5,593.7 Q463,595 466.5,593.7 Q473,590.5 480.2,583.4 L516.8,561.1" stroke-width="0.9" />
<path d="M467.7,612 Q472,613.6 473.4,613.1 Q476,612.3 477.4,610.8" stroke-width="0.8" />
<path d="M438.6,600 L438.6,613.1 L447.1,620 L452.8,621.1 L460.8,618.8 L470,620 L475.7,615.4" stroke-width="0.9" />
<path d="M438.6,600 L447.1,605.1 L447.1,620" stroke-width="0.8" />
<path d="M438.6,600 L463,573.5 Q465,571.3 467.2,570.5" stroke-width="0.9" />
<path d="M447.1,605.1 L463.1,579.4 Q465,577.5 467.2,576.5" stroke-width="0.8" />
<path d="M463.1,579.4 L458.5,589.1" stroke-width="0.8" />
<ellipse cx="453.4" cy="610.8" rx="2.6" ry="3.4" stroke-width="0.9" transform="rotate(25 453.4 610.8)" />
<path d="M475.1,565.7 Q477.5,563 480.2,562.3 L486,562.3 Q488,563 489.4,564.5" stroke-width="0.8" />
<path d="M480.2,568.5 L508.8,552.6" stroke-width="0.9" />
<path d="M467.1,570.5 L467.1,582.0 A6.2,3.9 0 0 0 479.5,582.0 L479.5,570.5 Z" stroke-width="0.9" fill="#f8f8f8"/>
<ellipse cx="473.3" cy="570.5" rx="6.2" ry="3.9" stroke-width="0.9" fill="#f8f8f8"/>
<ellipse cx="473.3" cy="570.5" rx="3.1" ry="1.9" stroke-width="0.8" />
<path d="M508.7,546.2 L508.7,557.7 A6.2,3.9 0 0 0 521.1,557.7 L521.1,546.2 Z" stroke-width="0.9" fill="#f8f8f8"/>
<ellipse cx="514.9" cy="546.2" rx="6.2" ry="3.9" stroke-width="0.9" fill="#f8f8f8"/>
<ellipse cx="514.9" cy="546.2" rx="3.1" ry="1.9" stroke-width="0.8" />
<path d="M521.5,540.5 L521.5,552.0 A6.2,3.9 0 0 0 533.9,552.0 L533.9,540.5 Z" stroke-width="0.9" fill="#f8f8f8"/>
<ellipse cx="527.7" cy="540.5" rx="6.2" ry="3.9" stroke-width="0.9" fill="#f8f8f8"/>
<ellipse cx="527.7" cy="540.5" rx="3.1" ry="1.9" stroke-width="0.8" />
<path d="M656.1,457.7 L656.1,469.2 A6.2,3.9 0 0 0 668.5,469.2 L668.5,457.7 Z" stroke-width="0.9" fill="#f8f8f8"/>
<ellipse cx="662.3" cy="457.7" rx="6.2" ry="3.9" stroke-width="0.9" fill="#f8f8f8"/>
<ellipse cx="662.3" cy="457.7" rx="3.1" ry="1.9" stroke-width="0.8" />
<path d="M668.9,450.8 L668.9,462.3 A6.2,3.9 0 0 0 681.3,462.3 L681.3,450.8 Z" stroke-width="0.9" fill="#f8f8f8"/>
<ellipse cx="675.1" cy="450.8" rx="6.2" ry="3.9" stroke-width="0.9" fill="#f8f8f8"/>
<ellipse cx="675.1" cy="450.8" rx="3.1" ry="1.9" stroke-width="0.8" />
<path d="M681.0,448.0 L690.0,443.5" stroke-width="0.9" />
<path d="M620.3,544.6 Q620.3,534 622.2,525.5 Q625,517 629.2,511.6 Q634.5,506.5 641.9,504 L653.3,501.2 L659.6,506.5 L666,513.5 L664.7,519.8 L659.6,526.8 L652,538.2 Q647,544 641.9,548.4 Q638,551.5 634.3,552.8 L626.6,549.6 Z" stroke-width="0.9" fill="#f8f8f8"/>
<path d="M653.3,501.2 Q648,506 644.4,511.6 L636.8,523 Q632,530 629.2,537 Q627,543 626.6,549.6" stroke-width="0.8" />
<path d="M641.9,504 Q636,512 633.5,518.5" stroke-width="0.6" />
<ellipse cx="646.3" cy="530.6" rx="7.0" ry="19.5" stroke-width="0.9" transform="rotate(48.3 646.3 530.6)" />
<ellipse cx="647.2" cy="531.4" rx="4.4" ry="16.0" stroke-width="0.8" transform="rotate(48.3 647.2 531.4)" />
<path d="M646.5,517.5 L650,514.6 L651.3,516.2 L647.8,519 Z" stroke-width="0.7" />
<path d="M643,544 L646.5,541.3 L647.6,542.8 L644.2,545.5 Z" stroke-width="0.7" />
<path d="M658.5,508 Q660.5,512 664.5,512.5" stroke-width="0.7" />
<path d="M630.5,551.2 L632.3,554.6" stroke-width="0.7" />
<path d="M623.0,548.2 L646.8,562.2" stroke-width="0.9" />
<path d="M539.4,588.4 L564.7,602.8" stroke-width="0.9" />
<path d="M566.1,600.2 L577.3,606.7 L574.4,611.7 L563.1,605.2Z" fill="#f8f8f8" stroke-width="0.9"/>
<ellipse cx="564.6" cy="602.7" rx="1.4" ry="2.9" stroke-width="0.9" transform="rotate(30.154547917916037 564.6 602.7)" fill="#f8f8f8"/>
<path d="M567.4,600.9 L565.0,606.3" stroke-width="0.9" />
<path d="M568.6,601.6 L566.3,607.0" stroke-width="0.9" />
<path d="M569.8,602.4 L567.5,607.7" stroke-width="0.9" />
<path d="M571.0,603.1 L568.7,608.4" stroke-width="0.9" />
<path d="M572.2,603.8 L569.9,609.1" stroke-width="0.9" />
<path d="M573.4,604.5 L571.1,609.8" stroke-width="0.9" />
<path d="M574.6,605.2 L572.3,610.5" stroke-width="0.9" />
<path d="M575.8,605.9 L573.5,611.2" stroke-width="0.9" />
<path d="M577.0,606.6 L574.7,611.9" stroke-width="0.9" />
<path d="M577.7,605.0 L582.2,607.2 L577.2,615.8 L573.1,613.0Z" fill="#8a8a8a" stroke-width="0.9"/>
<ellipse cx="575.4" cy="609.0" rx="2.0" ry="4.6" stroke-width="0.9" transform="rotate(30.154547917916037 575.4 609.0)" fill="#9a9a9a"/>
<path d="M582.5,606.6 L588.0,609.1 L581.8,619.9 L576.9,616.3Z" fill="#f8f8f8" stroke-width="0.9"/>
<ellipse cx="579.7" cy="611.5" rx="2.4" ry="5.6" stroke-width="0.8" transform="rotate(30.154547917916037 579.7 611.5)" fill="#f8f8f8"/>
<ellipse cx="585.4" cy="614.8" rx="4.6" ry="6.4" stroke-width="1.0" transform="rotate(30.154547917916037 585.4 614.8)" fill="#f8f8f8"/>
<path d="M647.1,559.9 L658.3,566.4 L655.4,571.4 L644.1,564.9Z" fill="#f8f8f8" stroke-width="0.9"/>
<ellipse cx="645.6" cy="562.4" rx="1.4" ry="2.9" stroke-width="0.9" transform="rotate(30.154547917916272 645.6 562.4)" fill="#f8f8f8"/>
<path d="M648.4,560.6 L646.0,566.0" stroke-width="0.9" />
<path d="M649.6,561.3 L647.3,566.7" stroke-width="0.9" />
<path d="M650.8,562.1 L648.5,567.4" stroke-width="0.9" />
<path d="M652.0,562.8 L649.7,568.1" stroke-width="0.9" />
<path d="M653.2,563.5 L650.9,568.8" stroke-width="0.9" />
<path d="M654.4,564.2 L652.1,569.5" stroke-width="0.9" />
<path d="M655.6,564.9 L653.3,570.2" stroke-width="0.9" />
<path d="M656.8,565.6 L654.5,570.9" stroke-width="0.9" />
<path d="M658.0,566.3 L655.7,571.6" stroke-width="0.9" />
<path d="M658.7,564.7 L663.2,566.9 L658.2,575.5 L654.1,572.7Z" fill="#8a8a8a" stroke-width="0.9"/>
<ellipse cx="656.4" cy="568.7" rx="2.0" ry="4.6" stroke-width="0.9" transform="rotate(30.154547917916272 656.4 568.7)" fill="#9a9a9a"/>
<path d="M663.5,566.3 L669.0,568.8 L662.8,579.6 L657.9,576.0Z" fill="#f8f8f8" stroke-width="0.9"/>
<ellipse cx="660.7" cy="571.2" rx="2.4" ry="5.6" stroke-width="0.8" transform="rotate(30.154547917916272 660.7 571.2)" fill="#f8f8f8"/>
<ellipse cx="666.4" cy="574.5" rx="4.6" ry="6.4" stroke-width="1.0" transform="rotate(30.154547917916272 666.4 574.5)" fill="#f8f8f8"/>
<path d="M650.8,518.6 L680.0,550.5 L730.8,603.8" stroke-width="0.9" />
<path d="M456.3,612.0 L506.3,641.0" stroke-width="0.9" />
<path d="M506.7,641.6 Q507.5,637.8 511,636.6 Q514.2,636.2 515.1,637.8 L515.9,649.2 L518.2,664.4 L527.3,661 Q529.6,660.8 529.9,662.1 L528.8,670.5 L518.9,675.1 L514.4,677.3 Q509.5,674 506.7,669 Q504.8,660 505.2,652.2 Z" stroke-width="1.0" fill="#f8f8f8"/>
<path d="M518.2,664.4 L519.7,673.5" stroke-width="0.8" />
<path d="M510.6,665.2 Q511.5,671 514.4,673.5 Q516.5,675.2 518.9,675.1" stroke-width="0.8" />
<ellipse cx="524.3" cy="668.6" rx="1.5" ry="3.2" stroke-width="0.8" transform="rotate(25 524.3 668.6)" />
<ellipse cx="511.0" cy="643.8" rx="2.3" ry="3.3" stroke-width="0.9" transform="rotate(25 511.0 643.8)" />
<path d="M805.7,424.4 L805.7,514.6 L808.9,518.4 L911.0,581.0 L911.0,588.0" stroke-width="0.8" />
<path d="M807.1,424.4 L807.1,500.0" stroke-width="0.6" />
<path d="M799.2,398.5 Q799.2,394 803,393.6 L809.8,393.6 Q813.6,394 813.6,398.5 L813.6,403.5 Q813.2,407.3 809.8,408 L803,408 Q799.6,407.3 799.2,403.5 Z" stroke-width="1.0" fill="#f8f8f8"/>
<ellipse cx="806.4" cy="397.6" rx="6.4" ry="3.6" stroke-width="0.8" />
<path d="M802.3,400.3 L802.3,407.8" stroke-width="0.6" />
<path d="M810.5,400.3 L810.5,407.8" stroke-width="0.6" />
<path d="M802.6,407 L802.6,423.5 Q806.3,425.6 810,423.5 L810,407" stroke-width="0.9" fill="#f8f8f8"/>
<path d="M802.6,409.5 L810.0,410.3" stroke-width="0.7" />
<path d="M802.6,411.0 L810.0,411.8" stroke-width="0.7" />
<path d="M802.6,412.5 L810.0,413.3" stroke-width="0.7" />
<path d="M802.6,414.0 L810.0,414.8" stroke-width="0.7" />
<path d="M802.6,415.5 L810.0,416.3" stroke-width="0.7" />
<path d="M802.6,417.0 L810.0,417.8" stroke-width="0.7" />
<path d="M802.6,418.5 L810.0,419.3" stroke-width="0.7" />
<path d="M802.6,420.0 L810.0,420.8" stroke-width="0.7" />
<path d="M802.6,421.5 L810.0,422.3" stroke-width="0.7" />
<path d="M802.6,423.0 L810.0,423.8" stroke-width="0.7" />
<path d="M760.0,461.3 L777.5,471.6" stroke-width="0.9" />
<path d="M791.5,479.8 L835.5,505.7" stroke-width="0.9" />
<path d="M777.9,477.8 Q778.5,472 782.2,468.9 L790.5,464.3 Q794,462.8 796.2,464.8 Q797.8,466.5 797.5,469.5 L797.5,487.9 L815.2,496.8 Q819.5,499.5 819,503.5 Q818.5,507 815,508.5 L807.5,511.5 Q803,512.8 798.7,510.8 L781.5,500.5 Q778.2,498.3 777.9,494 Z" stroke-width="1.0" fill="#f8f8f8"/>
<path d="M781.2,479.5 Q781.5,474.5 784.5,472 L791,468.3" stroke-width="0.7" />
<path d="M781.2,479.5 L781.2,492.5 Q781.5,495.5 784,497 L799.5,506.3 Q803,507.8 806.5,507 L817.8,502.6" stroke-width="0.8" />
<path d="M781.2,492.5 L797.5,484.5" stroke-width="0.8" />
<path d="M797.5,487.9 L784.5,494.5" stroke-width="0.6" />
<ellipse cx="788.8" cy="478.2" rx="3.2" ry="7.2" stroke-width="0.9" transform="rotate(10 788.8 478.2)" />
<path d="M790.2,472 Q793,478 790.5,484" stroke-width="0.6" />
<ellipse cx="805.6" cy="500.9" rx="6.3" ry="3.4" stroke-width="0.9" transform="rotate(-8 805.6 500.9)" />
<path d="M800,502.2 Q805.6,497.8 811.3,501.2" stroke-width="0.6" />
<ellipse cx="858.6" cy="520.1" rx="3.4" ry="5.6" stroke-width="0.9" transform="rotate(-148.4236961059703 858.6 520.1)" fill="#f8f8f8"/>
<path d="M861.6,515.3 L857.3,512.7" stroke-width="0.9" />
<path d="M855.7,524.9 L851.4,522.3" stroke-width="0.9" />
<ellipse cx="854.4" cy="517.5" rx="3.4" ry="5.6" stroke-width="0.9" transform="rotate(-148.4236961059703 854.4 517.5)" fill="#f8f8f8"/>
<path d="M859.8,518.2 L855.5,515.6" stroke-width="0.6" />
<path d="M857.5,522.0 L853.2,519.4" stroke-width="0.6" />
<path d="M853.9,514.4 L837.3,504.2 L834.7,508.2 L851.4,518.5" fill="#f8f8f8" stroke-width="0.9"/>
<ellipse cx="836.0" cy="506.2" rx="1.4" ry="2.4" stroke-width="0.9" transform="rotate(-148.4236961059703 836.0 506.2)" fill="#f8f8f8"/>
<path d="M851.7,513.1 Q849.8,514.7 849.2,517.1" stroke-width="0.7"/>
<path d="M850.5,512.3 Q848.5,513.9 847.9,516.4" stroke-width="0.7"/>
<path d="M849.2,511.5 Q847.2,513.1 846.7,515.6" stroke-width="0.7"/>
<path d="M847.9,510.7 Q845.9,512.3 845.4,514.8" stroke-width="0.7"/>
<path d="M846.6,509.9 Q844.6,511.5 844.1,514.0" stroke-width="0.7"/>
<path d="M845.3,509.1 Q843.4,510.7 842.8,513.2" stroke-width="0.7"/>
<path d="M844.1,508.3 Q842.1,509.9 841.6,512.4" stroke-width="0.7"/>
<path d="M842.8,507.6 Q840.8,509.2 840.3,511.6" stroke-width="0.7"/>
<path d="M841.5,506.8 Q839.5,508.4 839.0,510.9" stroke-width="0.7"/>
<path d="M840.2,506.0 Q838.3,507.6 837.7,510.1" stroke-width="0.7"/>
<path d="M839.0,505.2 Q837.0,506.8 836.4,509.3" stroke-width="0.7"/>
<path d="M837.7,504.4 Q835.7,506.0 835.2,508.5" stroke-width="0.7"/>
<path d="M814.3,549.0 L814.3,631.7" stroke-width="0.8" />
<path d="M810.3,531.5 Q810.3,528.3 814.2,528.3 Q818.2,528.3 818.2,531.5 L818.2,534 Q814.2,536 810.3,534 Z" stroke-width="0.9" fill="#f8f8f8"/>
<path d="M812.3,535 L812.3,548 L814.3,549.8 L816.3,548 L816.3,535" stroke-width="0.8" fill="#f8f8f8"/>
<path d="M812.3,537.0 L816.3,537.6" stroke-width="0.7" />
<path d="M812.3,538.4 L816.3,539.0" stroke-width="0.7" />
<path d="M812.3,539.8 L816.3,540.4" stroke-width="0.7" />
<path d="M812.3,541.2 L816.3,541.8" stroke-width="0.7" />
<path d="M812.3,542.6 L816.3,543.2" stroke-width="0.7" />
<path d="M812.3,544.0 L816.3,544.6" stroke-width="0.7" />
<path d="M812.3,545.4 L816.3,546.0" stroke-width="0.7" />
<path d="M812.3,546.8 L816.3,547.4" stroke-width="0.7" />
<path d="M812.3,548.2 L816.3,548.8" stroke-width="0.7" />
<ellipse cx="814.5" cy="558.5" rx="4.8" ry="2.5" stroke-width="1.3" fill="#f8f8f8"/>
<ellipse cx="814.5" cy="558.4" rx="2.1" ry="1.1" stroke-width="0.9" />
<ellipse cx="814.0" cy="589.0" rx="4.8" ry="2.5" stroke-width="1.3" fill="#f8f8f8"/>
<ellipse cx="814.0" cy="588.9" rx="2.1" ry="1.1" stroke-width="0.9" />
<path d="M818.4,575.7 L832,579.5 L834.9,580.9 L845,583.5 Q851,586 852.2,593 L852.9,601.3" stroke-width="0.9" />
<path d="M817.8,578.6 L831.5,582.2 L834.3,583.4 L844,585.9 Q849,588 850.2,594 L850.9,601.3 L852.9,601.3" stroke-width="0.9" />
<path d="M832.0,579.5 L831.5,582.2" stroke-width="0.7" />
<path d="M834.9,580.9 L834.3,583.4" stroke-width="0.7" />
<ellipse cx="814.2" cy="576.3" rx="4.6" ry="3.6" stroke-width="1.0" fill="#f8f8f8"/>
<ellipse cx="814.2" cy="575.3" rx="2.8" ry="1.6" stroke-width="1.1" />
<path d="M809.6,576.3 L809.6,578.6 Q814.2,582.5 818.8,578.6 L818.8,576.3" stroke-width="0.8" />
<path d="M805.7,440.0 L805.7,514.6" stroke-width="0.8" />
<path d="M693.9,46.0 L693.9,79.5" stroke-width="0.8" />
<path d="M693.9,163.0 L693.9,217.8" stroke-width="0.8" />
<path d="M668.3,67.7 L668.3,152.6 A25.6,11.5 0 0 0 719.6,152.6 L719.6,67.7" stroke-width="1.0" fill="#f8f8f8"/>
<ellipse cx="693.9" cy="67.7" rx="25.6" ry="13.3" stroke-width="1.0" fill="#f8f8f8"/>
<ellipse cx="693.9" cy="68.2" rx="22.9" ry="11.2" stroke-width="0.9" />
<path d="M693.9,46.0 L693.9,79.5" stroke-width="0.8" />
<path d="M668.3,80.4 Q664.5,83.4 668.5,86.4 Q674,89.4 681,90.4" stroke-width="0.9" />
<path d="M669.5,81.4 Q667,83.4 670,85.4 Q675,87.9 681,88.7" stroke-width="0.6" />
<path d="M668.3,101.9 Q664.5,104.9 668.5,107.9 Q674,110.9 681,111.9" stroke-width="0.9" />
<path d="M669.5,102.9 Q667,104.9 670,106.9 Q675,109.4 681,110.2" stroke-width="0.6" />
<path d="M690.5,90.9 Q708,87.4 719.6,81.4 Q722.5,83.4 719.6,85.4" stroke-width="0.9" />
<path d="M690.5,92.4 Q708,89.1 719.6,83.4" stroke-width="0.6" />
<path d="M719.6,99.4 Q722.5,103.4 719.6,107.4" stroke-width="0.9" />
<ellipse cx="674.3" cy="101.4" rx="4.0" ry="6.6" stroke-width="1.0" fill="#f8f8f8"/>
<ellipse cx="677.2" cy="101.7" rx="3.2" ry="5.6" stroke-width="0.9" fill="#f8f8f8"/>
<path d="M674.3,94.8 L678.0,96.0" stroke-width="0.8" />
<path d="M674.3,108.0 L678.0,107.2" stroke-width="0.8" />
<ellipse cx="677.6" cy="101.8" rx="1.6" ry="2.8" stroke-width="0.8" />
<path d="M686,97.7 L708,101.1 L708,108.7 L686,105.3 Z" stroke-width="0.9" fill="#f8f8f8"/>
<path d="M687.5,97.9 L688.4,105.5" stroke-width="0.8" />
<path d="M689.3,98.2 L690.2,105.8" stroke-width="0.8" />
<path d="M691.1,98.5 L692.0,106.1" stroke-width="0.8" />
<path d="M692.9,98.8 L693.8,106.4" stroke-width="0.8" />
<path d="M694.7,99.0 L695.6,106.6" stroke-width="0.8" />
<path d="M696.5,99.3 L697.4,106.9" stroke-width="0.8" />
<path d="M698.3,99.6 L699.2,107.2" stroke-width="0.8" />
<path d="M700.1,99.9 L701.0,107.5" stroke-width="0.8" />
<path d="M701.9,100.2 L702.8,107.8" stroke-width="0.8" />
<path d="M703.7,100.4 L704.6,108.0" stroke-width="0.8" />
<path d="M705.5,100.7 L706.4,108.3" stroke-width="0.8" />
<path d="M707.3,101.0 L708.2,108.6" stroke-width="0.8" />
<path d="M707.5,100.4 L711.5,97.2 L716.5,98.9 L718.5,104.9 L716.5,110.4 L711.5,111.9 L707.5,109.4 Z" stroke-width="1.0" fill="#f8f8f8"/>
<ellipse cx="714.5" cy="105.2" rx="2.6" ry="4.6" stroke-width="0.9" transform="rotate(-10 714.5 105.2)" />
<path d="M712.8,102.4 L716.2,107.9" stroke-width="0.8" />
<path d="M716.5,102.8 L712.5,107.4" stroke-width="0.8" />
<path d="M718.5,104.9 L721.0,106.4" stroke-width="0.7" />
<path d="M680.2,89.4 Q680.2,86.6 683,86.0 L687.3,85.0 Q690.8,85.0 690.8,88.6 L690.8,112.9 Q690.8,115.4 688,116.4 L684,117.7 Q680.2,117.9 680.2,114.4 Z" stroke-width="1.0" fill="#f8f8f8"/>
<path d="M682.6,87.9 L682.6,116.4" stroke-width="0.7" />
<path d="M690.8,90.7 L692.5,90.1" stroke-width="0.8" />
<path d="M690.8,111.7 L693.5,110.7" stroke-width="0.8" />
<path d="M668.3,117.5 Q664.5,120.5 668.5,123.5 Q674,126.5 681,127.5" stroke-width="0.9" />
<path d="M669.5,118.5 Q667,120.5 670,122.5 Q675,125.0 681,125.8" stroke-width="0.6" />
<path d="M668.3,139.0 Q664.5,142.0 668.5,145.0 Q674,148.0 681,149.0" stroke-width="0.9" />
<path d="M669.5,140.0 Q667,142.0 670,144.0 Q675,146.5 681,147.3" stroke-width="0.6" />
<path d="M690.5,128.0 Q708,124.5 719.6,118.5 Q722.5,120.5 719.6,122.5" stroke-width="0.9" />
<path d="M690.5,129.5 Q708,126.2 719.6,120.5" stroke-width="0.6" />
<path d="M719.6,136.5 Q722.5,140.5 719.6,144.5" stroke-width="0.9" />
<ellipse cx="674.3" cy="138.5" rx="4.0" ry="6.6" stroke-width="1.0" fill="#f8f8f8"/>
<ellipse cx="677.2" cy="138.8" rx="3.2" ry="5.6" stroke-width="0.9" fill="#f8f8f8"/>
<path d="M674.3,131.9 L678.0,133.1" stroke-width="0.8" />
<path d="M674.3,145.1 L678.0,144.3" stroke-width="0.8" />
<ellipse cx="677.6" cy="138.9" rx="1.6" ry="2.8" stroke-width="0.8" />
<path d="M686,134.8 L708,138.2 L708,145.8 L686,142.4 Z" stroke-width="0.9" fill="#f8f8f8"/>
<path d="M687.5,135.0 L688.4,142.6" stroke-width="0.8" />
<path d="M689.3,135.3 L690.2,142.9" stroke-width="0.8" />
<path d="M691.1,135.6 L692.0,143.2" stroke-width="0.8" />
<path d="M692.9,135.9 L693.8,143.5" stroke-width="0.8" />
<path d="M694.7,136.1 L695.6,143.7" stroke-width="0.8" />
<path d="M696.5,136.4 L697.4,144.0" stroke-width="0.8" />
<path d="M698.3,136.7 L699.2,144.3" stroke-width="0.8" />
<path d="M700.1,137.0 L701.0,144.6" stroke-width="0.8" />
<path d="M701.9,137.3 L702.8,144.9" stroke-width="0.8" />
<path d="M703.7,137.5 L704.6,145.1" stroke-width="0.8" />
<path d="M705.5,137.8 L706.4,145.4" stroke-width="0.8" />
<path d="M707.3,138.1 L708.2,145.7" stroke-width="0.8" />
<path d="M707.5,137.5 L711.5,134.3 L716.5,136.0 L718.5,142.0 L716.5,147.5 L711.5,149.0 L707.5,146.5 Z" stroke-width="1.0" fill="#f8f8f8"/>
<ellipse cx="714.5" cy="142.3" rx="2.6" ry="4.6" stroke-width="0.9" transform="rotate(-10 714.5 142.3)" />
<path d="M712.8,139.5 L716.2,145.0" stroke-width="0.8" />
<path d="M716.5,139.9 L712.5,144.5" stroke-width="0.8" />
<path d="M718.5,142.0 L721.0,143.5" stroke-width="0.7" />
<path d="M680.2,126.5 Q680.2,123.7 683,123.1 L687.3,122.1 Q690.8,122.1 690.8,125.7 L690.8,150.0 Q690.8,152.5 688,153.5 L684,154.8 Q680.2,155.0 680.2,151.5 Z" stroke-width="1.0" fill="#f8f8f8"/>
<path d="M682.6,125.0 L682.6,153.5" stroke-width="0.7" />
<path d="M690.8,127.8 L692.5,127.2" stroke-width="0.8" />
<path d="M690.8,148.8 L693.5,147.8" stroke-width="0.8" />
<path d="M676.9,220 L676.9,226 Q677,236 686,244 Q695,252.5 708,253 Q717,252.5 725.5,247.8 L761,231.4 Q770,228.3 777.4,228.7 Q786,229.3 791,231.4 Q797.5,234.5 801.9,239.6 L829.2,266.5 L864.2,301 M877.2,317.3 L924.4,380 L934,392.5" stroke-width="0.9" />
<path d="M713.8,210.9 L744.6,195.9 Q757,190.5 769.2,189.7 Q779,189.3 788.3,190.5 Q798,192 807.4,195.9 Q818,201 826.5,208.2 L865.6,248 L888.9,269 L895.5,277.2 L942.5,335.8 L968.5,370" stroke-width="0.9" />
<path d="M678.6,207.4 L678.6,223.2 M713.8,207.4 L713.8,221.5" stroke-width="1.0" />
<ellipse cx="696.2" cy="207.4" rx="17.6" ry="12.8" stroke-width="1.5" fill="#f8f8f8"/>
<path d="M686.8,216.3 Q695.6,211.6 707,214.8" stroke-width="0.8" />
<path d="M694.1,194.6 L694.1,217.8" stroke-width="0.8" />
<path d="M676.9,222.5 Q680,231.5 696.5,232.5 Q712,231.5 715.5,221.5" stroke-width="0.9" />
<path d="M677.5,226 Q681,235 696.5,236 Q712,235 716,224.5" stroke-width="0.7" />
<path d="M678.8,229 Q683,238 696.5,238.7 Q711,238 716.3,228" stroke-width="0.7" />
<path d="M716,221.9 Q724,231 725.5,247.8" stroke-width="0.8" />
<path d="M744.6,195.9 Q757,209 761,231.4" stroke-width="0.8" />
<path d="M826.5,209.6 Q807,217 799.7,236.9" stroke-width="0.8" />
<path d="M865.6,248 Q847.4,253.5 838.4,269.7" stroke-width="0.8" />
<path d="M871.2,253.6 Q851,259 844.9,273.8 Q844,277.5 845.3,280.8" stroke-width="0.8" />
<path d="M887.9,267.6 Q866.5,273 859.5,287.8 Q858.6,291.5 860,294.8" stroke-width="0.8" />
<path d="M892.8,277.3 Q875,281.5 867.2,293.4 Q865.2,297 864.9,301" stroke-width="0.8" />
<path d="M838.4,276.6 L862.1,300.3" stroke-width="0.8" />
<path d="M823.0,308.0 L940.0,241.5" stroke-width="0.8" />
<path d="M832.4,250.5 L844.6,244.5 L845.3,247.3 L837,271 L830,287.8 Q827.6,293.4 830,299" stroke-width="1.0" />
<path d="M832.4,250.5 L837.2,267.5" stroke-width="0.8" />
<path d="M843.4,249.5 L836.2,270 L829,287 Q826.6,293 828.6,298.5" stroke-width="0.7" />
<path d="M830,293.4 L841.9,305.2 L841.9,312.9 L830,299 Z" stroke-width="0.9" fill="#7a7a7a"/>
<ellipse cx="835.6" cy="302.6" rx="1.6" ry="3.6" stroke-width="0.8" transform="rotate(-40 835.6 302.6)" fill="#f8f8f8"/>
<path d="M841.9,305.2 L885.1,297.6 L897,305.2 Q890,311 883.7,318.2 L841.9,312.9 Z" stroke-width="0.9" />
<path d="M885.1,297.6 Q876.5,307.5 877.5,317.4" stroke-width="0.8" />
<path d="M841.9,312.9 L883.7,318.2" stroke-width="1.2" />
<path d="M900.0,264.6 L939.3,242.1" stroke-width="0.9" />
<path d="M955.0,234.2 L973.0,223.0" stroke-width="0.9" />
<ellipse cx="945.1" cy="237.8" rx="6.8" ry="10.2" stroke-width="0.9" transform="rotate(-28 945.1 237.8)" fill="#f8f8f8"/>
<ellipse cx="946.7" cy="238.3" rx="6.8" ry="10.2" stroke-width="0.9" transform="rotate(-28 946.7 238.3)" fill="#f8f8f8"/>
<ellipse cx="946.7" cy="238.3" rx="2.9" ry="4.3" stroke-width="0.9" transform="rotate(-28 946.7 238.3)" />
<ellipse cx="1009.0" cy="202.7" rx="4.4" ry="10.5" stroke-width="0.9" transform="rotate(151.82679989750503 1009.0 202.7)" fill="#f8f8f8"/>
<path d="M1004.0,193.4 L996.1,197.7" stroke-width="0.9" />
<path d="M1013.9,211.9 L1006.0,216.2" stroke-width="0.9" />
<ellipse cx="1001.0" cy="206.9" rx="4.4" ry="10.5" stroke-width="0.9" transform="rotate(151.82679989750503 1001.0 206.9)" fill="#f8f8f8"/>
<path d="M1007.0,199.0 L999.1,203.2" stroke-width="0.6" />
<path d="M1010.9,206.4 L1003.0,210.6" stroke-width="0.6" />
<path d="M996.0,203.1 L972.8,215.5 L978.2,225.7 L1001.4,213.2" fill="#f8f8f8" stroke-width="0.9"/>
<ellipse cx="975.5" cy="220.6" rx="2.4" ry="5.8" stroke-width="0.9" transform="rotate(151.82679989750503 975.5 220.6)" fill="#f8f8f8"/>
<path d="M992.7,204.9 Q993.8,210.8 998.1,215.0" stroke-width="0.7"/>
<path d="M990.9,205.8 Q992.0,211.7 996.3,216.0" stroke-width="0.7"/>
<path d="M989.1,206.8 Q990.3,212.7 994.6,216.9" stroke-width="0.7"/>
<path d="M987.4,207.7 Q988.5,213.6 992.8,217.8" stroke-width="0.7"/>
<path d="M985.6,208.7 Q986.7,214.6 991.1,218.8" stroke-width="0.7"/>
<path d="M983.9,209.6 Q985.0,215.5 989.3,219.7" stroke-width="0.7"/>
<path d="M982.1,210.5 Q983.2,216.5 987.5,220.7" stroke-width="0.7"/>
<path d="M980.3,211.5 Q981.4,217.4 985.8,221.6" stroke-width="0.7"/>
<path d="M978.6,212.4 Q979.7,218.4 984.0,222.6" stroke-width="0.7"/>
<path d="M976.8,213.4 Q977.9,219.3 982.2,223.5" stroke-width="0.7"/>
<path d="M975.0,214.3 Q976.2,220.2 980.5,224.5" stroke-width="0.7"/>
<path d="M973.3,215.3 Q974.4,221.2 978.7,225.4" stroke-width="0.7"/>
<path d="M1067.3,267.9 L1090.9,292.0 L970.5,360.0 L985.5,372.5" stroke-width="0.9" />
<ellipse cx="1050.7" cy="251.5" rx="2.9" ry="5.2" stroke-width="0.9" transform="rotate(44.61547034041546 1050.7 251.5)" fill="#f8f8f8"/>
<path d="M1047.0,255.2 L1049.3,257.4" stroke-width="0.9" />
<path d="M1054.3,247.8 L1056.6,250.0" stroke-width="0.9" />
<ellipse cx="1052.9" cy="253.7" rx="2.9" ry="5.2" stroke-width="2.0" transform="rotate(44.61547034041546 1052.9 253.7)" fill="#f8f8f8"/>
<path d="M1049.2,253.0 L1051.5,255.2" stroke-width="0.6" />
<path d="M1052.1,250.0 L1054.4,252.2" stroke-width="0.6" />
<ellipse cx="1053.8" cy="254.6" rx="3.1" ry="5.6" stroke-width="0.9" transform="rotate(44.61547034041546 1053.8 254.6)" fill="#f8f8f8"/>
<path d="M1053.5,257.3 L1065.3,269.0 L1068.3,265.8 L1056.6,254.2" fill="#f8f8f8" stroke-width="0.9"/>
<ellipse cx="1066.8" cy="267.4" rx="1.2" ry="2.2" stroke-width="0.9" transform="rotate(44.61547034041546 1066.8 267.4)" fill="#f8f8f8"/>
<path d="M1057.4,261.2 Q1059.4,260.1 1060.5,258.1" stroke-width="0.7"/>
<path d="M1058.5,262.3 Q1060.5,261.2 1061.6,259.2" stroke-width="0.7"/>
<path d="M1059.6,263.4 Q1061.5,262.2 1062.7,260.2" stroke-width="0.7"/>
<path d="M1060.6,264.4 Q1062.6,263.3 1063.7,261.3" stroke-width="0.7"/>
<path d="M1061.7,265.5 Q1063.7,264.3 1064.8,262.3" stroke-width="0.7"/>
<path d="M1062.8,266.5 Q1064.8,265.4 1065.9,263.4" stroke-width="0.7"/>
<path d="M1063.8,267.6 Q1065.8,266.4 1066.9,264.4" stroke-width="0.7"/>
<path d="M1064.9,268.6 Q1066.9,267.5 1068.0,265.5" stroke-width="0.7"/>
<path d="M977.8,364.3 C979.7,365.2 982.2,369.5 983.4,371.9 C984.6,374.3 984.8,376.3 984.8,378.9 C984.8,381.5 984.6,384.3 983.4,387.3 C982.2,390.3 980.6,393.3 977.8,397.0 C975.0,400.7 970.3,405.9 966.6,409.6 C962.9,413.3 958.2,417.1 955.5,419.4 C952.8,421.7 952.5,422.5 950.6,423.6 C948.7,424.8 946.0,426.3 944.3,426.3 C942.5,426.3 941.0,425.0 940.1,423.6 C939.2,422.2 939.2,420.3 938.7,418.0 C938.2,415.7 937.4,412.6 937.3,409.6 C937.2,406.6 936.8,403.3 938.0,399.8 C939.2,396.3 941.4,392.4 944.3,388.7 C947.2,385.0 951.8,380.5 955.5,377.5 C959.2,374.5 963.8,372.4 966.6,370.5 C969.4,368.6 970.3,367.3 972.2,366.3 C974.1,365.3 975.9,363.4 977.8,364.3 Z" stroke-width="0.9" fill="#f8f8f8"/>
<path d="M980.0,363.3 C981.9,364.2 984.4,368.5 985.6,370.9 C986.8,373.3 987.0,375.3 987.0,377.9 C987.0,380.5 986.8,383.3 985.6,386.3 C984.4,389.3 982.8,392.3 980.0,396.0 C977.2,399.7 972.5,404.9 968.8,408.6 C965.1,412.3 960.4,416.1 957.7,418.4 C955.0,420.7 954.7,421.5 952.8,422.6 C950.9,423.8 948.2,425.3 946.5,425.3 C944.8,425.3 943.2,424.0 942.3,422.6 C941.4,421.2 941.4,419.3 940.9,417.0 C940.4,414.7 939.6,411.6 939.5,408.6 C939.4,405.6 939.0,402.3 940.2,398.8 C941.4,395.3 943.6,391.4 946.5,387.7 C949.4,384.0 954.0,379.5 957.7,376.5 C961.4,373.5 966.0,371.4 968.8,369.5 C971.6,367.6 972.5,366.3 974.4,365.3 C976.3,364.3 978.1,362.4 980.0,363.3 Z" stroke-width="1.0" fill="#f8f8f8"/>
<ellipse cx="962.9" cy="395.7" rx="23.3" ry="12.8" stroke-width="1.0" transform="rotate(-35 962.9 395.7)" />
<ellipse cx="962.9" cy="395.7" rx="19.4" ry="10.8" stroke-width="0.8" transform="rotate(-35 962.9 395.7)" />
<ellipse cx="980.3" cy="373.4" rx="3.0" ry="2.0" stroke-width="0.9" transform="rotate(-30 980.3 373.4)" />
<ellipse cx="948.6" cy="419.8" rx="3.0" ry="2.0" stroke-width="0.9" transform="rotate(-30 948.6 419.8)" />
<path d="M1003.7,392.6 C1005.1,392.9 1007.1,393.8 1007.9,396.0 C1008.7,398.2 1009.3,402.3 1008.6,405.8 C1007.9,409.3 1006.4,413.1 1003.7,417.0 C1001.0,420.9 996.6,425.6 992.6,429.5 C988.6,433.4 983.3,437.7 980.0,440.7 C976.7,443.7 975.1,446.2 973.0,447.7 C970.9,449.2 968.9,450.0 967.4,449.8 C965.9,449.6 964.7,448.5 964.0,446.3 C963.3,444.1 962.9,439.5 963.0,436.5 C963.1,433.5 963.2,431.1 964.6,428.1 C966.0,425.1 968.6,421.9 971.6,418.4 C974.6,414.9 979.1,410.6 982.8,407.2 C986.5,403.8 991.2,400.3 994.0,398.1 C996.8,395.9 997.9,394.9 999.5,394.0 C1001.1,393.1 1002.3,392.3 1003.7,392.6 Z" stroke-width="1.1" fill="#f8f8f8"/>
<ellipse cx="986.3" cy="421.4" rx="20.8" ry="13.5" stroke-width="1.1" transform="rotate(-35 986.3 421.4)" />
<ellipse cx="986.3" cy="421.4" rx="19.4" ry="12.2" stroke-width="0.6" transform="rotate(-35 986.3 421.4)" />
<ellipse cx="1002.6" cy="399.2" rx="3.0" ry="2.0" stroke-width="0.9" transform="rotate(-30 1002.6 399.2)" />
<ellipse cx="970.2" cy="444.8" rx="3.0" ry="2.0" stroke-width="0.9" transform="rotate(-30 970.2 444.8)" />
<path d="M1009.0,401.5 L1027.0,433.0" stroke-width="0.9" />
<path d="M1034.9,445.4 L1050.0,462.8 L1193.5,385.8 L1247.9,459.7" stroke-width="0.9" />
<path d="M1003.4,480.9 L1032.4,522.4" stroke-width="0.9" />
<path d="M1033.9,445.4 L1065.1,495.1" stroke-width="0.9" />
<path d="M1030.3,432.2 L1033.9,435.2 L1036.9,438.8 L1033.9,453.5 L1028.8,449.4 L1023.2,447.4 Q1015.6,447.8 1005.5,455.5 Q999.5,462 996.8,472.8 L998.4,475.3 L1003.4,480.9 L1001.9,482.4 L997.3,487 L992.8,487.5 Q988.2,484.5 987.7,480.9 L987.7,474.8 Q989.5,466 992.3,460.6 Q996.5,454 1001.4,449.4 Q1008,444 1015.6,439.8 Z" stroke-width="1.0" fill="#f8f8f8"/>
<path d="M1028.3,437.8 L1015.6,443.9 Q1009,447.8 1003.9,452.5 Q999,457 995.8,462.6 Q992.8,468.5 991.8,474.8 L990.2,481.9" stroke-width="0.8" />
<path d="M1028.3,437.8 L1022.7,447.4" stroke-width="0.8" />
<path d="M1033.2,437.0 L1030.0,451.0" stroke-width="0.6" />
<path d="M991.8,481.9 L998.4,475.3" stroke-width="0.8" />
<ellipse cx="1031.3" cy="442.8" rx="1.9" ry="2.7" stroke-width="1.0" transform="rotate(-35 1031.3 442.8)" />
<ellipse cx="997.3" cy="483.0" rx="2.7" ry="1.9" stroke-width="1.0" transform="rotate(-40 997.3 483.0)" />
<path d="M922.7,591.8 Q950,577 977.3,560.5 Q1005,542 1032.4,522.4 L1066.3,495 L1072,491" stroke-width="0.9" />
<path d="M737,666 Q742,675 756,685 Q770,692 790,693.2 Q812,692 833.7,682.3 L883.7,658.9 Q915,643.5 946.1,626.1 Q978,608 1008.5,590.2 Q1038,572 1064.7,552.7 L1091,530.6" stroke-width="0.9" />
<path d="M826.0,686.0 L835.0,682.0" stroke-width="1.3" />
<path d="M1072,491 Q1088.3,500 1094,515 Q1096,523 1091,530.6" stroke-width="0.9" />
<path d="M1072,491 Q1078,485.5 1085.6,482.8 Q1093,480.5 1102,481.4 Q1111,483 1118.3,488.3 Q1128,496 1132,507.4 Q1135.5,517 1134.7,526.5 Q1133,538.5 1126.5,548.3 Q1118.5,557.5 1107.4,562 Q1096,565 1085.6,563.3 Q1078,561.5 1072,557.9 L1065.1,552.4" stroke-width="0.9" />
<path d="M1123.8,495.1 Q1128,504 1125.2,512.8 Q1121,522.5 1112.9,527.9 Q1105,531.5 1096.5,530.6" stroke-width="0.8" />
<path d="M734.2,659.8 L755.2,630.5 Q757.5,628.8 760.1,628.4 L769.8,628.4 Q773,629.5 774,631.9 L774.7,637.5 L772.6,638.9 L768.5,634.5 Q766.5,631.5 765.6,631.2 L760.1,631.9 L755.9,637.5 L741.9,659.8 L740.5,665.4 L738.4,666.1 L735.6,662.6 Z" stroke-width="1.0" fill="#f8f8f8"/>
<path d="M737.0,661.2 L756.6,633.3" stroke-width="0.7" />
<path d="M756.5,640.5 L760,633.5 Q762.5,631.8 765,633.2 L766.2,635.2 L761.5,642.5 Q758.5,643.8 756.5,640.5 Z" stroke-width="0.8" />
<ellipse cx="761.3" cy="636.6" rx="1.8" ry="3.4" stroke-width="1.2" transform="rotate(35 761.3 636.6)" />
<path d="M772.7,640.6 Q780,647 794.3,650 Q800,650 804.4,648.2" stroke-width="0.9" />
<path d="M804.4,648.2 L804.4,636 Q804.6,630.5 809.5,629.2 L816.5,628.5 Q821,629 823,632.5 L827.3,638 L901,605 L902.2,593.6 Q903,588.5 906,586 Q909,584.3 912.4,584.3 Q916,584.6 918.7,587.3 L922.7,591.8" stroke-width="0.9" />
<path d="M806.5,648 L806.5,637.5" stroke-width="0.6" />
<path d="M903.5,604 L904.2,594.5" stroke-width="0.6" />
<ellipse cx="814.0" cy="636.0" rx="3.0" ry="2.2" stroke-width="0.9" />
<ellipse cx="910.6" cy="591.9" rx="3.0" ry="2.2" stroke-width="0.9" />
<path d="M730.8,603.8 L735.0,608.0" stroke-width="0.9" />
<path d="M763.8,639.4 L834.3,717.5" stroke-width="0.9" />
<path d="M737.0,601.2 L745.4,604.7 L746.8,609.6 L728.6,641.7 L721.0,645.9 L710.5,643.8 L708.4,638.9 L731.4,603.3 Z" stroke-width="1.0" fill="#f8f8f8"/>
<ellipse cx="727.4" cy="624.6" rx="7.2" ry="20.4" stroke-width="1.0" transform="rotate(40.8 727.4 624.6)" />
<ellipse cx="727.4" cy="624.6" rx="5.2" ry="17.8" stroke-width="0.8" transform="rotate(40.8 727.4 624.6)" />
<ellipse cx="733.7" cy="608.4" rx="1.2" ry="2.8" stroke-width="1.0" transform="rotate(40 733.7 608.4)" />
<ellipse cx="725.0" cy="639.4" rx="1.2" ry="2.8" stroke-width="1.0" transform="rotate(40 725.0 639.4)" />
<path d="M741.9,616.5 L758.5,634.2" stroke-width="0.8" />
<path d="M832.3,720.2 L851.3,738.6 L855.9,733.8 L836.9,715.4 Z" fill="#f8f8f8" stroke-width="0.9"/>
<ellipse cx="853.6" cy="736.2" rx="1.6" ry="3.3" stroke-width="0.9" transform="rotate(44.08089521628591 853.6 736.2)" fill="#f8f8f8"/>
<path d="M832.3,720.2 L837.4,715.9" stroke-width="0.9" />
<path d="M833.2,721.1 L838.3,716.8" stroke-width="0.9" />
<path d="M834.2,722.0 L839.3,717.7" stroke-width="0.9" />
<path d="M835.1,722.9 L840.2,718.6" stroke-width="0.9" />
<path d="M836.0,723.8 L841.1,719.5" stroke-width="0.9" />
<path d="M837.0,724.7 L842.1,720.4" stroke-width="0.9" />
<path d="M837.9,725.6 L843.0,721.3" stroke-width="0.9" />
<path d="M841.8,729.4 L846.9,725.1" stroke-width="0.9" />
<path d="M842.7,730.3 L847.8,726.0" stroke-width="0.9" />
<path d="M843.7,731.2 L848.8,726.9" stroke-width="0.9" />
<path d="M844.6,732.1 L849.7,727.8" stroke-width="0.9" />
<path d="M845.5,733.0 L850.6,728.7" stroke-width="0.9" />
<path d="M846.5,733.9 L851.6,729.6" stroke-width="0.9" />
<path d="M847.4,734.8 L852.5,730.5" stroke-width="0.9" />
<path d="M848.3,735.7 L853.4,731.4" stroke-width="0.9" />
<path d="M849.3,736.6 L854.4,732.4" stroke-width="0.9" />
<path d="M855.5,738.0 L856.5,739.3" stroke-width="0.9" />
<path d="M863.5,747.8 L866.0,750.8" stroke-width="0.9" />
<path d="M872.5,758.5 L875.0,761.0" stroke-width="0.9" />
<ellipse cx="858.2" cy="742.7" rx="5.2" ry="6.6" stroke-width="0.9" transform="rotate(42 858.2 742.7)" fill="#f8f8f8"/>
<ellipse cx="859.4" cy="743.1" rx="5.2" ry="6.6" stroke-width="0.9" transform="rotate(42 859.4 743.1)" fill="#f8f8f8"/>
<ellipse cx="859.4" cy="743.1" rx="2.3" ry="3.0" stroke-width="0.9" transform="rotate(42 859.4 743.1)" />
<ellipse cx="867.7" cy="754.2" rx="3.9" ry="4.9" stroke-width="0.9" transform="rotate(42 867.7 754.2)" fill="#f8f8f8"/>
<ellipse cx="869.3" cy="754.8" rx="3.9" ry="4.9" stroke-width="0.9" transform="rotate(42 869.3 754.8)" fill="#f8f8f8"/>
<ellipse cx="869.3" cy="754.8" rx="2.1" ry="2.7" stroke-width="1.2" transform="rotate(42 869.3 754.8)" />
<path d="M868.5,749.9 L870.1,752.3" stroke-width="0.7" />
<path d="M880.9,769.5 L874.0,770.7 L870.5,765.2 L873.9,758.5 L880.8,757.3 L884.4,762.8Z" fill="#f8f8f8" stroke-width="0.9"/>
<path d="M882.9,771.2 L880.9,769.5" stroke-width="0.7" />
<path d="M876.0,772.4 L874.0,770.7" stroke-width="0.7" />
<path d="M872.4,766.9 L870.5,765.2" stroke-width="0.7" />
<path d="M875.9,760.2 L873.9,758.5" stroke-width="0.7" />
<path d="M882.8,759.0 L880.8,757.3" stroke-width="0.7" />
<path d="M886.4,764.5 L884.4,762.8" stroke-width="0.7" />
<path d="M882.9,771.2 L876.0,772.4 L872.4,766.9 L875.9,760.2 L882.8,759.0 L886.4,764.5Z" fill="#f8f8f8" stroke-width="0.9"/>
<ellipse cx="879.4" cy="765.7" rx="3.2" ry="3.8" stroke-width="1.6" transform="rotate(40 879.4 765.7)" stroke="#444"/>
<ellipse cx="879.4" cy="765.7" rx="1.4" ry="1.7" stroke-width="1" transform="rotate(40 879.4 765.7)" />
<ellipse cx="1215.2" cy="416.0" rx="4.7" ry="5.8" stroke-width="0.9" transform="rotate(50 1215.2 416.0)" fill="#f8f8f8"/>
<ellipse cx="1216.2" cy="416.3" rx="4.7" ry="5.8" stroke-width="0.9" transform="rotate(50 1216.2 416.3)" fill="#f8f8f8"/>
<ellipse cx="1216.2" cy="416.3" rx="2.1" ry="2.6" stroke-width="0.9" transform="rotate(50 1216.2 416.3)" />
<ellipse cx="1228.0" cy="435.4" rx="3.9" ry="5.0" stroke-width="0.9" transform="rotate(50 1228.0 435.4)" fill="#f8f8f8"/>
<ellipse cx="1229.6" cy="436.0" rx="3.9" ry="5.0" stroke-width="0.9" transform="rotate(50 1229.6 436.0)" fill="#f8f8f8"/>
<ellipse cx="1229.6" cy="436.0" rx="2.1" ry="2.8" stroke-width="1.2" transform="rotate(50 1229.6 436.0)" />
<path d="M1228.8,431.0 L1230.4,433.5" stroke-width="0.7" />
<path d="M1250.3,465.8 L1244.6,465.8 L1242.5,460.9 L1246.2,456.0 L1252.0,456.0 L1254.0,461.0Z" fill="#f8f8f8" stroke-width="0.9"/>
<path d="M1251.7,467.5 L1250.3,465.8" stroke-width="0.7" />
<path d="M1246.0,467.5 L1244.6,465.8" stroke-width="0.7" />
<path d="M1243.9,462.6 L1242.5,460.9" stroke-width="0.7" />
<path d="M1247.7,457.7 L1246.2,456.0" stroke-width="0.7" />
<path d="M1253.4,457.7 L1252.0,456.0" stroke-width="0.7" />
<path d="M1255.5,462.6 L1254.0,461.0" stroke-width="0.7" />
<path d="M1251.7,467.5 L1246.0,467.5 L1243.9,462.6 L1247.7,457.7 L1253.4,457.7 L1255.5,462.6Z" fill="#f8f8f8" stroke-width="0.9"/>
<ellipse cx="1249.7" cy="462.6" rx="2.6" ry="3.1" stroke-width="1.6" transform="rotate(50 1249.7 462.6)" stroke="#444"/>
<ellipse cx="1249.7" cy="462.6" rx="1.2" ry="1.4" stroke-width="1" transform="rotate(50 1249.7 462.6)" />
<text class="wm" transform="translate(357.6,420.4) scale(1.003,1.038)" x="0" y="0" font-size="82">AUTOPITER.RU</text>
</svg>
</body></html>
